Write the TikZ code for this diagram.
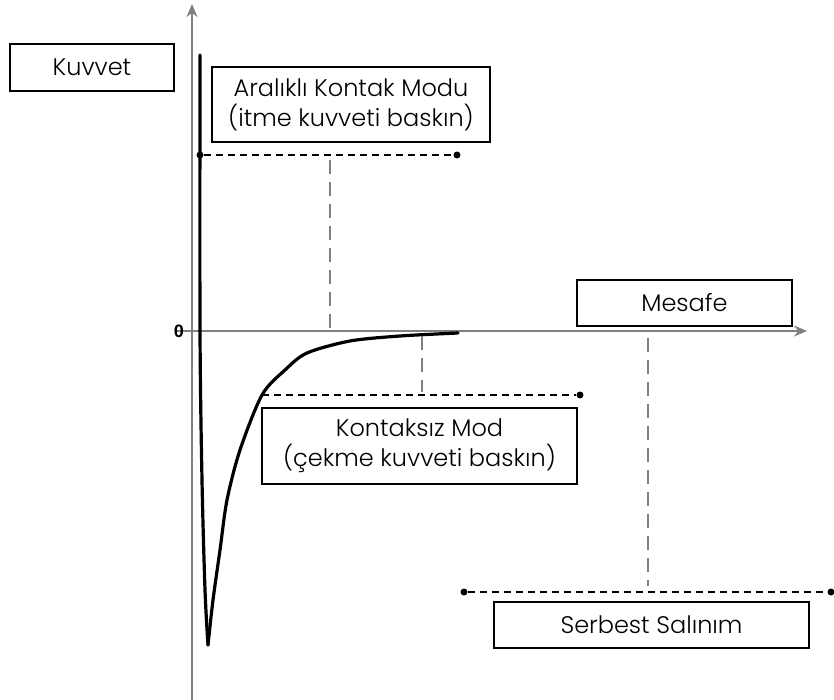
\documentclass[tikz,border=0pt]{standalone}
\usepackage{fontspec}
\setmainfont{Poppins}[UprightFont={* Light}]
\newfontfamily\zerofont{Liberation Sans}[UprightFont={* Bold}]
\usetikzlibrary{arrows.meta}

\tikzset{
    labelbox/.style={draw, line width=2pt, align=center, inner sep=0pt,
        font=\fontsize{24}{30}\selectfont},
    guide/.style={line width=2.2pt, dash pattern=on 7pt off 5pt},
    drop/.style={gray, line width=1.4pt, dash pattern=on 14pt off 8pt},
    axisline/.style={gray, line width=2pt, -{Stealth[length=13pt, width=11pt]}},
    dot/.style={circle, fill, inner sep=0pt, minimum size=7pt},
}

\begin{document}
\begin{tikzpicture}[x=1pt, y=-1pt]
    \useasboundingbox (0,0) rectangle (834,700);

    % Draw the axes
    \coordinate (yfoot) at (192,700);
    \coordinate (ytip) at (192,4);
    \coordinate (xstart) at (176,331);
    \coordinate (xtip) at (807,331);
    \draw[axisline] (yfoot) -- (ytip);
    \draw[axisline] (xstart) -- (xtip);
    \node[font=\zerofont\fontsize{18}{18}\selectfont] (zero) at (179,331) {0};

    % Draw the force curve
    \draw[line width=3.2pt, line cap=round] plot[smooth] coordinates
        {(200,55) (200,330) (202,480) (205,590) (208,645)};
    \draw[line width=3.2pt, line cap=round] plot[smooth] coordinates
        {(208,645) (213,600) (220,550) (227,500) (240,450) (262,395)
         (285,370) (307,353) (350,341) (400,336) (458,333)};

    % Draw the mode lines
    \node[dot] (aleft) at (200,155) {};
    \node[dot] (aright) at (457,155) {};
    \draw[guide] (aleft) -- (aright);
    \coordinate (atop) at (330,160);
    \coordinate (afoot) at (330,331);
    \draw[drop] (atop) -- (afoot);

    \coordinate (kleft) at (262,395);
    \node[dot] (kright) at (580,395) {};
    \draw[guide] (kleft) -- (kright);
    \coordinate (ktop) at (422,336);
    \coordinate (kfoot) at (422,392);
    \draw[drop] (ktop) -- (kfoot);

    \node[dot] (sleft) at (464,592) {};
    \node[dot] (sright) at (831,592) {};
    \draw[guide] (sleft) -- (sright);
    \coordinate (stop) at (648,338);
    \coordinate (sfoot) at (648,586);
    \draw[drop] (stop) -- (sfoot);

    % Draw the labels
    \node[labelbox, minimum width=164pt, minimum height=47pt] (kuvvet) at (92,67.5) {Kuvvet};
    \node[labelbox, minimum width=278pt, minimum height=75pt] (aralikli) at (351,104.5)
        {Aralıklı Kontak Modu\\(itme kuvveti baskın)};
    \node[labelbox, minimum width=215pt, minimum height=46pt] (mesafe) at (684.5,303) {Mesafe};
    \node[labelbox, minimum width=315pt, minimum height=76pt] (kontaksiz) at (419.5,446)
        {Kontaksız Mod\\(çekme kuvveti baskın)};
    \node[labelbox, minimum width=315pt, minimum height=46pt] (serbest) at (651.5,625) {Serbest Salınım};

\end{tikzpicture}
\end{document}
